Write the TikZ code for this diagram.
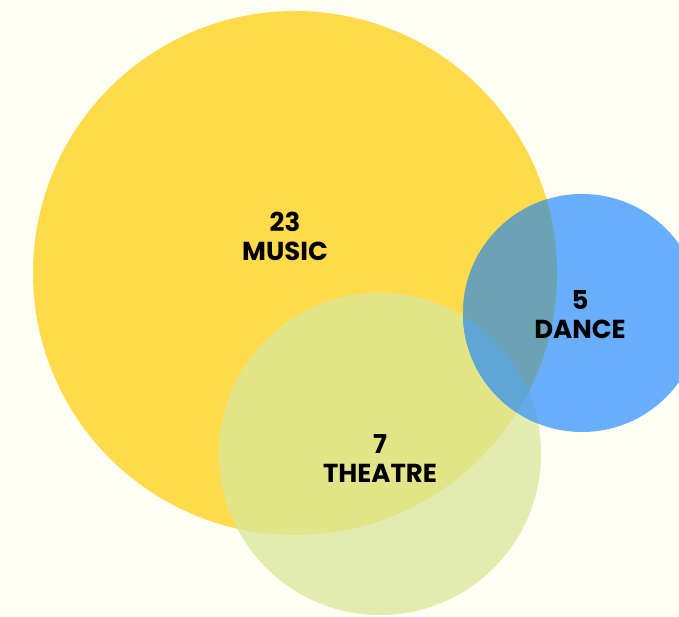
\documentclass[tikz,border=0pt]{standalone}
\usepackage{fontspec}
\setmainfont{Poppins}
\definecolor{paper}{HTML}{FEFEF4}
\definecolor{musicfill}{HTML}{FFDA4A}
\definecolor{theatrefill}{HTML}{E2ECAE}
\definecolor{dancefill}{HTML}{68AEFA}
\definecolor{musictheatre}{HTML}{E2E488}
\definecolor{musicdance}{HTML}{6BA3B5}
\definecolor{theatredance}{HTML}{63AAE6}
\definecolor{allthree}{HTML}{5DA6D6}
\tikzset{
  setlabel/.style={align=center,font=\bfseries\fontsize{26}{29}\selectfont,text=black,inner sep=0pt}
}
\begin{document}
\begin{tikzpicture}[x=1pt,y=-1pt]
  \useasboundingbox (0,0) rectangle (679,617);
  \clip (0,0) rectangle (679,617);
  \fill[paper] (0,0) rectangle (679,617);
  %% centres of the three sets
  \coordinate (mc) at (295,273);
  \coordinate (tc) at (380,454);
  \coordinate (dc) at (582,313);
  %% plain circles
  \fill[musicfill] (mc) circle[radius=262pt];
  \fill[theatrefill] (tc) circle[radius=161pt];
  \fill[dancefill] (dc) circle[radius=119pt];
  %% overlaps
  \begin{scope}
    \clip (mc) circle[radius=262pt];
    \fill[musictheatre] (tc) circle[radius=161pt];
    \fill[musicdance] (dc) circle[radius=119pt];
  \end{scope}
  \begin{scope}
    \clip (tc) circle[radius=161pt];
    \fill[theatredance] (dc) circle[radius=119pt];
    \clip (mc) circle[radius=262pt];
    \fill[allthree] (dc) circle[radius=119pt];
  \end{scope}
  %% labels
  \node[setlabel] (music) at (285,236) {23\\MUSIC};
  \node[setlabel] (dance) at (580,315) {5\\DANCE};
  \node[setlabel] (theatre) at (380,459) {7\\THEATRE};
\end{tikzpicture}
\end{document}
